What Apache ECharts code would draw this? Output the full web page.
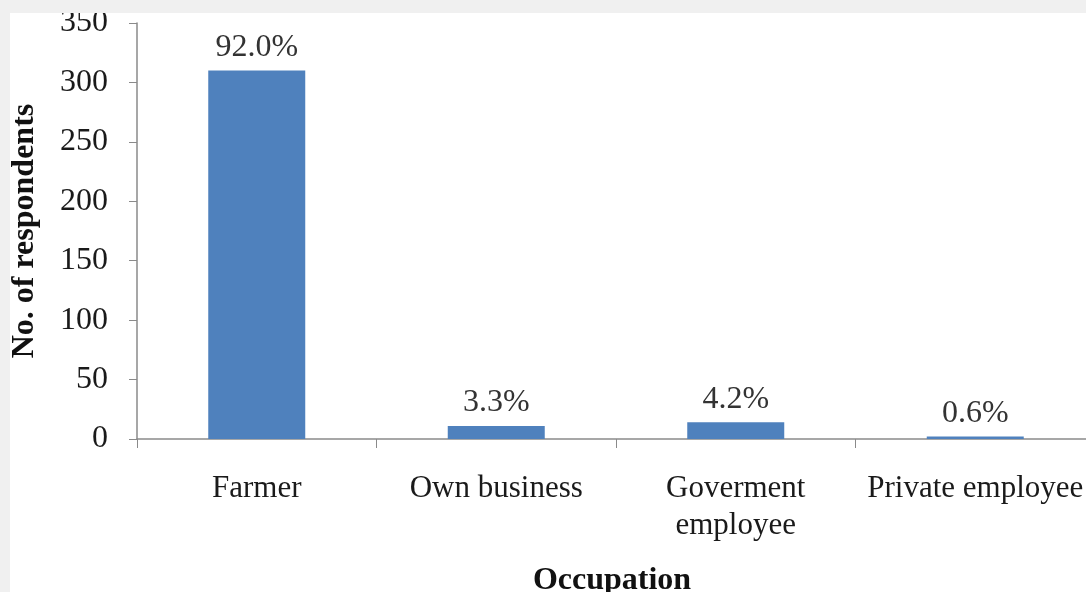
<!DOCTYPE html>
<html>
<head>
<meta charset="utf-8">
<script src="https://cdn.jsdelivr.net/npm/echarts@6/dist/echarts.min.js"></script>
<style>
  html, body { margin: 0; padding: 0; width: 1086px; height: 592px; overflow: hidden; background: #f0f0f0; }
  #chart { position: absolute; left: 10px; top: 13px; width: 1085px; height: 579px; background: #ffffff; }
</style>
</head>
<body>
<div id="chart"></div>
<script>
// Occupation of respondents: counts per category, with share labels
const categories = ['Farmer', 'Own business', 'Goverment\nemployee', 'Private employee'];
const respondents = [310, 11, 14, 2];
const shareLabels = ['92.0%', '3.3%', '4.2%', '0.6%'];
const yTicks = { min: 0, max: 350, interval: 50 };

const serif = '"Liberation Serif", "Times New Roman", serif';
const axisColor = '#8a8a8a';

const chart = echarts.init(document.getElementById('chart'), null, { renderer: 'canvas' });

chart.setOption({
  animation: false,
  grid: { left: 127, right: 0, top: 10, bottom: 153, containLabel: false, outerBoundsMode: 'none' },
  title: {
    text: 'Occupation',
    left: 597,
    top: 547,
    textAlign: 'center',
    textStyle: { fontFamily: serif, fontSize: 32, fontWeight: 'bold', color: '#111' }
  },
  xAxis: {
    type: 'category',
    data: categories,
    axisLine: { lineStyle: { color: axisColor, width: 1.5 } },
    axisTick: { show: true, length: 9, alignWithLabel: false, lineStyle: { color: axisColor } },
    axisLabel: {
      margin: 31,
      interval: 0,
      fontFamily: serif,
      fontSize: 31,
      lineHeight: 37,
      color: '#1a1a1a'
    }
  },
  yAxis: {
    type: 'value',
    min: yTicks.min,
    max: yTicks.max,
    interval: yTicks.interval,
    name: 'No. of respondents',
    nameLocation: 'middle',
    nameGap: 96,
    nameTextStyle: { fontFamily: serif, fontSize: 32, fontWeight: 'bold', color: '#111' },
    axisLine: { show: true, lineStyle: { color: axisColor, width: 1.5 } },
    axisTick: { show: true, length: 8, lineStyle: { color: axisColor } },
    splitLine: { show: false },
    axisLabel: { margin: 29, fontFamily: serif, fontSize: 32, color: '#1a1a1a' }
  },
  series: [{
    type: 'bar',
    data: respondents,
    barWidth: '40.5%',
    itemStyle: { color: '#4f81bd' },
    label: {
      show: true,
      position: 'top',
      distance: 7,
      fontFamily: serif,
      fontSize: 32,
      color: '#333',
      formatter: (p) => shareLabels[p.dataIndex]
    }
  }]
});
</script>
</body>
</html>
